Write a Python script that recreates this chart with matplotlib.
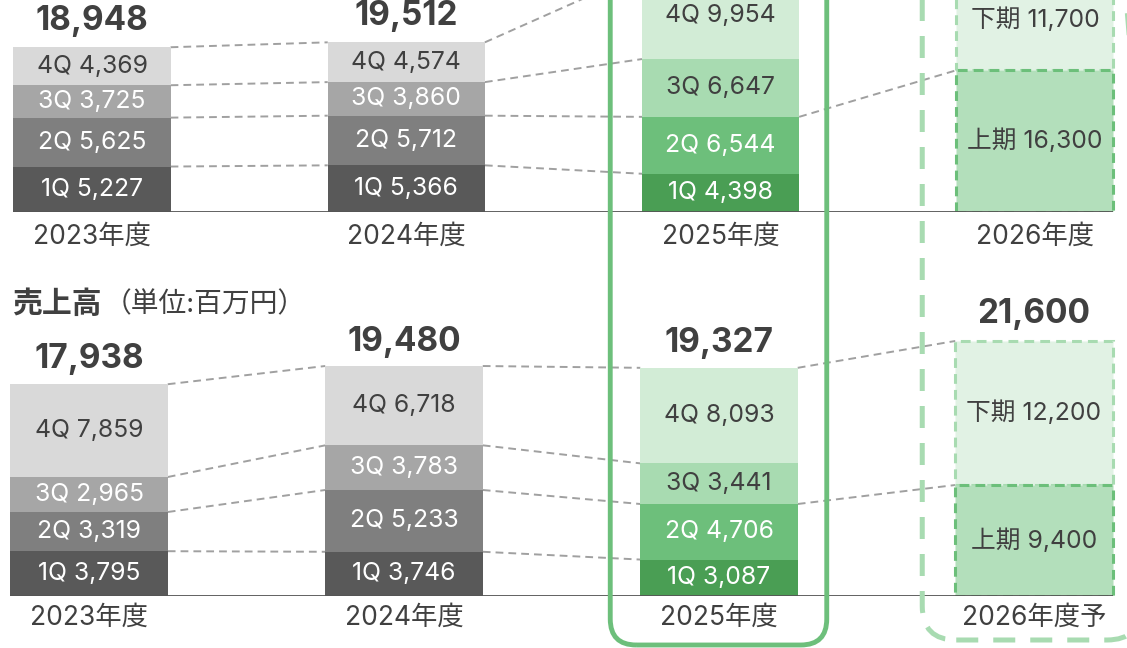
import matplotlib
matplotlib.use("Agg")
import matplotlib.pyplot as plt
from matplotlib.patches import FancyBboxPatch
from matplotlib.transforms import IdentityTransform

plt.rcParams['font.family'] = ['Inter', 'Noto Sans CJK JP', 'DejaVu Sans']

# ---------------- data ----------------
quarters = ['1Q', '2Q', '3Q', '4Q']
halves = ['上期', '下期']
years_orders = ['2023年度', '2024年度', '2025年度', '2026年度']
years_sales = ['2023年度', '2024年度', '2025年度', '2026年度予']

orders_2023 = [5227, 5625, 3725, 4369]
orders_2024 = [5366, 5712, 3860, 4574]
orders_2025 = [4398, 6544, 6647, 9954]
orders_2026_plan = [16300, 11700]
orders_totals = [18948, 19512, None, None]   # 2025/2026 totals lie outside the visible area

sales_2023 = [3795, 3319, 2965, 7859]
sales_2024 = [3746, 5233, 3783, 6718]
sales_2025 = [3087, 4706, 3441, 8093]
sales_2026_plan = [9400, 12200]
sales_totals = [17938, 19480, 19327, 21600]

title_main = '売上高'
title_unit = '（単位:百万円）'

# ---------------- style ----------------
W, H = 1127, 648
GRAY = ['#595959', '#7f7f7f', '#a6a6a6', '#d9d9d9']
GREEN = ['#4a9e54', '#6dbf7b', '#a8dbb1', '#d2ecd6']
PLAN = ['#b3dfbb', '#e1f2e4']
PLAN_EDGE = ['#6cbf7a', '#a8dbb1']
TXT_GRAY = ['white', 'white', 'white', '#404040']
TXT_GREEN = ['white', 'white', '#404040', '#404040']
DARK = '#404040'
BOX = '#6dbf7b'
BOX2 = '#a8dbb1'
CONN = '#a0a0a0'
BAR_W = 0.5
SEG_FS = 17.8
TOT_FS = 24
YEAR_FS = 19

fig = plt.figure(figsize=(W / 100, H / 100), dpi=100)


def add_panel(base_px, top_px, units_per_px, x0_px, step_px):
    ax = fig.add_axes([0, 1 - base_px / H, 1, (base_px - top_px) / H])
    ax.set_ylim(0, (base_px - top_px) * units_per_px)
    ax.set_xlim(-x0_px / step_px, (W - x0_px) / step_px)
    ax.axis('off')
    return ax


def draw_panel(ax, q_series, plan, totals, years, year_off, tot_off):
    cums = []
    for i, vals in enumerate(q_series):
        cols = GREEN if i == 2 else GRAY
        tcols = TXT_GREEN if i == 2 else TXT_GRAY
        bottom = 0
        cum = [0]
        for k, v in enumerate(vals):
            ax.bar(i, v, BAR_W, bottom=bottom, color=cols[k], linewidth=0, zorder=2)
            ax.text(i, bottom + v / 2, f'{quarters[k]} {v:,}', ha='center', va='center',
                    color=tcols[k], fontsize=SEG_FS, zorder=4)
            bottom += v
            cum.append(bottom)
        cums.append(cum)
    # plan bar (second half first so first-half edge lies on top)
    ax.bar(3, plan[1], BAR_W, bottom=plan[0], color=PLAN[1], edgecolor=PLAN_EDGE[1],
           linewidth=2.2, linestyle=(0, (3.2, 2.0)), zorder=2)
    ax.bar(3, plan[0], BAR_W, color=PLAN[0], edgecolor=PLAN_EDGE[0],
           linewidth=2.2, linestyle=(0, (3.2, 2.0)), zorder=3)
    ax.text(3, plan[0] / 2, f'{halves[0]} {plan[0]:,}', ha='center', va='center',
            color=DARK, fontsize=SEG_FS, zorder=4)
    ax.text(3, plan[0] + plan[1] / 2, f'{halves[1]} {plan[1]:,}', ha='center', va='center',
            color=DARK, fontsize=SEG_FS, zorder=4)
    tops = [c[-1] for c in cums] + [plan[0] + plan[1]]

    # connectors
    ls = (0, (4.0, 2.6))
    for i in range(2):
        for k in range(1, 5):
            ax.plot([i + BAR_W / 2, i + 1 - BAR_W / 2], [cums[i][k], cums[i + 1][k]],
                    color=CONN, lw=1.4, ls=ls, zorder=1, clip_on=False)
    ax.plot([2 + BAR_W / 2, 3 - BAR_W / 2], [cums[2][2], plan[0]],
            color=CONN, lw=1.4, ls=ls, zorder=1, clip_on=False)
    ax.plot([2 + BAR_W / 2, 3 - BAR_W / 2], [cums[2][4], plan[0] + plan[1]],
            color=CONN, lw=1.4, ls=ls, zorder=1, clip_on=False)

    # baseline
    ax.plot([-BAR_W / 2, 3 + BAR_W / 2], [0, 0], color='#555555', lw=1.3, zorder=3,
            solid_capstyle='butt')

    for i in range(4):
        if totals[i] is not None:
            ax.annotate(f'{totals[i]:,}', xy=(i, tops[i]), xytext=(0, tot_off[i]),
                        textcoords='offset points', ha='center', va='center',
                        fontsize=TOT_FS, fontweight='bold', color=DARK,
                        annotation_clip=False)
        ax.annotate(years[i], xy=(i, 0), xytext=(0, -year_off), textcoords='offset points',
                    ha='center', va='center', fontsize=YEAR_FS, color=DARK,
                    annotation_clip=False)


ax_top = add_panel(212, -90, 115.0, 92, 314.3)
ax_bot = add_panel(596, 285, 84.7, 89, 315.0)

draw_panel(ax_top, [orders_2023, orders_2024, orders_2025], orders_2026_plan,
           orders_totals, years_orders, 17.5, [19, 19, 19, 19.5])
draw_panel(ax_bot, [sales_2023, sales_2024, sales_2025], sales_2026_plan,
           sales_totals, years_sales, 16, [18, 17, 18, 19.5])


def disp(ax, x, y):
    return ax.transData.transform((x, y))


# highlight frame around current year
base = disp(ax_bot, 0, 0)[1]
xl = disp(ax_bot, 2 - BAR_W / 2, 0)[0] - 30
xr = disp(ax_bot, 2 + BAR_W / 2, 0)[0] + 29
yb = base - 49
frame = FancyBboxPatch((xl, yb), xr - xl, H + 80 - yb,
                       boxstyle='round,pad=0,rounding_size=26',
                       transform=IdentityTransform(), fill=False, ec=BOX, lw=3.5, zorder=5)
fig.add_artist(frame)

# dashed frame around plan year
xl2 = disp(ax_bot, 3 - BAR_W / 2, 0)[0] - 33
xr2 = W + 14
yb2 = base - 44
frame2 = FancyBboxPatch((xl2, yb2), xr2 - xl2, H + 80 - yb2,
                        boxstyle='round,pad=0,rounding_size=34',
                        transform=IdentityTransform(), fill=False, ec=BOX2, lw=3.6,
                        ls=(0, (4.4, 3.0)), zorder=5)
fig.add_artist(frame2)

# panel title
fig.text(12 / W, 1 - 305 / H, title_main, ha='left', va='center', fontsize=21.5,
         fontweight='bold', color=DARK)
fig.text(104 / W, 1 - 305 / H, title_unit, ha='left', va='center', fontsize=20,
         color=DARK)

fig.savefig('out.png', dpi=100)
